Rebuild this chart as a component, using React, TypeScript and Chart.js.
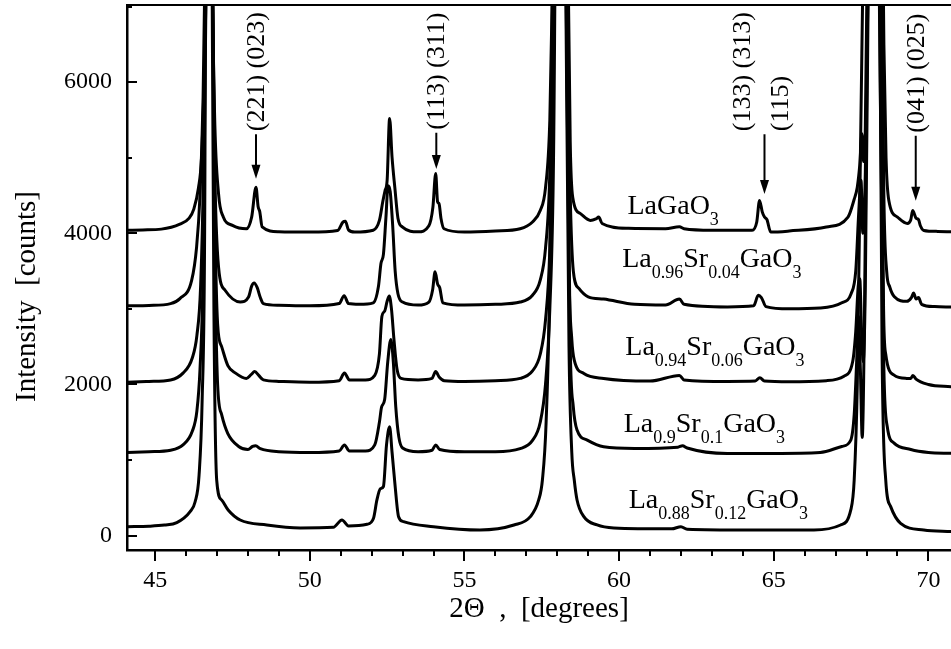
import React, { useEffect, useRef } from 'react';
import { Chart, registerables } from 'chart.js';

Chart.register(...registerables);

// ---- Data: [2Theta (deg), intensity (counts)] ----
const LaGaO3: [number, number][] = [
  [44.1, 4040], [44.6, 4045], [45.2, 4055], [45.8, 4120], [46.1, 4200], [46.25, 4320], [46.4, 4600], [46.5, 5000],
  [46.58, 6000], [46.66, 7800], [46.75, 14000], [46.84, 7800], [46.92, 5600], [47.05, 4520], [47.2, 4220], [47.5, 4105],
  [47.95, 4060], [48.12, 4214], [48.26, 4610], [48.33, 4350], [48.38, 4290], [48.46, 4085], [49.0, 4020], [50.0, 4016],
  [50.9, 4038], [51.07, 4148], [51.15, 4160], [51.25, 4045], [51.45, 4016], [52.05, 4040], [52.25, 4170], [52.36, 4420],
  [52.43, 4560], [52.5, 4700], [52.58, 5520], [52.66, 5000], [52.75, 4600], [52.85, 4200], [53.0, 4082], [53.5, 4020],
  [53.85, 4100], [53.98, 4346], [54.07, 4790], [54.13, 4420], [54.18, 4390], [54.24, 4200], [54.34, 4060], [55.0, 4016],
  [56.0, 4030], [56.8, 4060], [57.2, 4150], [57.45, 4300], [57.62, 4600], [57.76, 5500], [57.88, 8000], [58.1, 16000],
  [58.34, 8000], [58.42, 5200], [58.5, 4478], [58.75, 4260], [59.07, 4170], [59.25, 4190], [59.34, 4214], [59.45, 4130],
  [60.3, 4065], [61.5, 4060], [61.95, 4085], [62.1, 4060], [63.0, 4040], [64.3, 4040], [64.45, 4150], [64.54, 4435],
  [64.63, 4280], [64.7, 4214], [64.78, 4180], [64.9, 4016], [65.5, 4030], [66.7, 4082], [67.4, 4214], [67.6, 4450],
  [67.7, 4610], [67.78, 4900], [67.85, 5318], [67.9, 4950], [67.96, 5400], [68.06, 9000], [68.3, 16000], [68.5, 9000],
  [68.56, 6500], [68.63, 5000], [68.72, 4434], [69.0, 4214], [69.32, 4130], [69.43, 4180], [69.49, 4300], [69.6, 4200],
  [69.68, 4180], [69.74, 4100], [69.85, 4038], [70.3, 4025], [70.75, 4020],
];

const La096Sr004: [number, number][] = [
  [44.1, 3040], [44.8, 3045], [45.5, 3070], [45.8, 3136], [46.18, 3378], [46.34, 3818], [46.45, 4500], [46.55, 5800],
  [46.63, 8000], [46.74, 14000], [46.84, 8000], [46.92, 5000], [47.05, 3553], [47.26, 3246], [47.75, 3091], [48.02, 3157],
  [48.12, 3300], [48.2, 3342], [48.3, 3280], [48.4, 3150], [48.5, 3070], [49.0, 3048], [50.0, 3040], [50.95, 3070],
  [51.11, 3175], [51.25, 3070], [51.6, 3060], [52.05, 3080], [52.22, 3300], [52.3, 3600], [52.38, 3720], [52.46, 4200],
  [52.53, 4630], [52.6, 4550], [52.68, 4100], [52.76, 3500], [52.85, 3200], [53.0, 3090], [53.5, 3050], [53.85, 3090],
  [53.97, 3250], [54.05, 3490], [54.13, 3330], [54.2, 3280], [54.3, 3080], [55.0, 3050], [56.0, 3060], [56.8, 3090],
  [57.2, 3180], [57.45, 3380], [57.62, 3800], [57.76, 4800], [57.86, 7000], [58.1, 15000], [58.32, 7000], [58.42, 4500],
  [58.52, 3500], [58.7, 3270], [59.0, 3160], [59.5, 3130], [60.5, 3060], [61.5, 3050], [61.95, 3130], [62.1, 3060],
  [63.5, 3025], [64.35, 3040], [64.5, 3180], [64.6, 3150], [64.75, 3030], [65.5, 3000], [66.5, 3010], [67.2, 3080],
  [67.5, 3200], [67.65, 3500], [67.75, 4300], [67.82, 4700], [67.88, 4000], [67.96, 4800], [68.07, 8000], [68.28, 15000],
  [68.48, 8000], [68.56, 4500], [68.65, 3500], [68.75, 3290], [68.9, 3160], [69.3, 3100], [69.45, 3150], [69.52, 3210],
  [69.6, 3130], [69.68, 3150], [69.78, 3060], [70.2, 3030], [70.75, 3025],
];

const La094Sr006: [number, number][] = [
  [44.1, 2030], [44.8, 2040], [45.5, 2060], [45.9, 2150], [46.2, 2350], [46.35, 2650], [46.47, 3300], [46.56, 4800],
  [46.64, 8000], [46.74, 14000], [46.84, 8000], [46.93, 4300], [47.02, 2800], [47.15, 2500], [47.35, 2250], [47.6, 2150],
  [47.95, 2080], [48.1, 2130], [48.22, 2170], [48.35, 2120], [48.5, 2060], [49.0, 2040], [50.0, 2030], [50.95, 2050],
  [51.12, 2150], [51.28, 2060], [51.8, 2060], [52.1, 2120], [52.25, 2400], [52.33, 2900], [52.42, 2970], [52.5, 3100],
  [52.57, 3170], [52.64, 3000], [52.72, 2600], [52.82, 2200], [52.95, 2080], [53.5, 2060], [53.95, 2080], [54.07, 2170],
  [54.18, 2100], [54.35, 2050], [55.0, 2040], [56.0, 2050], [56.8, 2080], [57.2, 2180], [57.45, 2400], [57.62, 2850],
  [57.76, 3800], [57.87, 6000], [58.08, 15000], [58.28, 7500], [58.38, 3500], [58.47, 2600], [58.55, 2321], [58.86, 2145],
  [59.5, 2079], [61.0, 2045], [61.95, 2120], [62.1, 2060], [63.5, 2040], [64.4, 2045], [64.55, 2090], [64.7, 2045],
  [65.5, 2035], [66.7, 2050], [67.27, 2110], [67.55, 2300], [67.65, 2700], [67.73, 3300], [67.78, 3400], [67.84, 2700],
  [67.89, 2300], [67.96, 3300], [68.06, 7500], [68.25, 15000], [68.46, 7000], [68.55, 3000], [68.62, 2400], [68.89, 2123],
  [69.3, 2080], [69.43, 2079], [69.5, 2120], [69.6, 2070], [70.0, 2000], [70.75, 1968],
];

const La090Sr010: [number, number][] = [
  [44.1, 1100], [44.8, 1110], [45.5, 1130], [45.9, 1200], [46.2, 1380], [46.35, 1650], [46.45, 2200], [46.55, 3500],
  [46.64, 7000], [46.74, 14000], [46.84, 8000], [46.93, 3800], [47.02, 2000], [47.15, 1600], [47.35, 1350], [47.7, 1180],
  [48.0, 1140], [48.15, 1180], [48.25, 1190], [48.4, 1150], [49.0, 1110], [50.0, 1100], [50.95, 1120], [51.12, 1200],
  [51.28, 1120], [51.8, 1120], [52.1, 1200], [52.25, 1500], [52.32, 1700], [52.42, 1800], [52.52, 2300], [52.62, 2594],
  [52.7, 2300], [52.78, 1700], [52.88, 1300], [53.0, 1160], [53.5, 1110], [53.95, 1130], [54.07, 1200], [54.2, 1140],
  [55.0, 1110], [56.0, 1110], [56.8, 1150], [57.2, 1260], [57.45, 1500], [57.62, 2000], [57.76, 3000], [57.88, 5000],
  [58.08, 15000], [58.3, 7000], [58.42, 2500], [58.52, 1700], [58.64, 1396], [58.97, 1264], [59.5, 1176], [60.5, 1154],
  [61.9, 1170], [62.05, 1190], [62.2, 1160], [63.5, 1088], [65.0, 1088], [66.5, 1100], [67.2, 1180], [67.49, 1264],
  [67.6, 1600], [67.68, 2300], [67.74, 2900], [67.8, 2200], [67.86, 1300], [67.93, 2800], [68.03, 7000], [68.22, 15000],
  [68.44, 6000], [68.56, 2200], [68.67, 1440], [68.89, 1224], [69.43, 1140], [70.0, 1100], [70.75, 1088],
];

const La088Sr012: [number, number][] = [
  [44.1, 119], [44.8, 125], [45.3, 140], [45.7, 172], [46.13, 317], [46.29, 445], [46.42, 800], [46.52, 1800],
  [46.6, 4000], [46.7, 15000], [46.82, 9000], [46.9, 3000], [46.99, 736], [47.15, 472], [47.36, 340], [47.75, 207],
  [48.61, 141], [49.69, 102], [50.76, 110], [51.04, 207], [51.25, 128], [51.85, 150], [52.06, 230], [52.17, 472],
  [52.28, 620], [52.38, 650], [52.48, 1200], [52.58, 1440], [52.66, 1100], [52.76, 648], [52.87, 251], [53.03, 185],
  [54.0, 119], [55.5, 75], [56.6, 141], [57.13, 251], [57.4, 472], [57.52, 736], [57.64, 1500], [57.76, 3500],
  [57.86, 8000], [58.06, 16000], [58.26, 8000], [58.38, 2500], [58.47, 1100], [58.55, 736], [58.64, 472], [58.86, 251],
  [59.29, 141], [59.83, 102], [61.7, 90], [62.0, 119], [62.2, 85], [64.14, 75], [66.3, 75], [67.16, 141],
  [67.49, 340], [67.6, 736], [67.7, 2000], [67.8, 5000], [67.92, 8500], [68.15, 16000], [68.4, 9000], [68.5, 2500],
  [68.62, 736], [68.78, 384], [69.1, 163], [69.85, 75], [70.75, 53],
];

const seriesNames = ['LaGaO3', 'La0.96Sr0.04GaO3', 'La0.94Sr0.06GaO3', 'La0.9Sr0.1GaO3', 'La0.88Sr0.12GaO3'];
const seriesValues = [LaGaO3, La096Sr004, La094Sr006, La090Sr010, La088Sr012];

// curve labels: [text, isSubscript] segments, anchored at data coordinates
const curveLabelParts: [string, boolean][][] = [
  [['LaGaO', false], ['3', true]],
  [['La', false], ['0.96', true], ['Sr', false], ['0.04', true], ['GaO', false], ['3', true]],
  [['La', false], ['0.94', true], ['Sr', false], ['0.06', true], ['GaO', false], ['3', true]],
  [['La', false], ['0.9', true], ['Sr', false], ['0.1', true], ['GaO', false], ['3', true]],
  [['La', false], ['0.88', true], ['Sr', false], ['0.12', true], ['GaO', false], ['3', true]],
];
const curveLabelX = [60.27, 60.1, 60.2, 60.15, 60.31];
const curveLabelY = [4260, 3553, 2387, 1374, 362];

// peak annotations
const peakTags = [['(221) (023)'], ['(113) (311)'], ['(133) (313)', '(115)'], ['(041) (025)']];
const peakTagX = [48.26, 54.09, 64.7, 69.59];
const arrowTipY = [4720, 4850, 4520, 4430];
const arrowTailY = [5310, 5330, 5310, 5290];

// axes
const xMin = 44.09;
const xMax = 70.73;
const yMin = -190;
const yMax = 7020;
const xLabelTicks = [45, 50, 55, 60, 65, 70];
const yLabelTicks = [0, 2000, 4000, 6000];
const xTickMarks = [45, 46, 47, 48, 49, 50, 51, 52, 53, 54, 55, 56, 57, 58, 59, 60, 61, 62, 63, 64, 65, 66, 67, 68, 69, 70];
const yTickMarks = [0, 1000, 2000, 3000, 4000, 5000, 6000, 7000];
const yTitle = 'Intensity  [counts]';
const xTitle = '2\u0398  ,  [degrees]';

const SERIF = "'Liberation Serif', 'Times New Roman', Times, serif";

const overlayPlugin = {
  id: 'overlay',
  afterDraw(chart: any) {
    const { ctx, chartArea: a, scales } = chart;
    const xs = scales.x;
    const ys = scales.y;
    ctx.save();
    ctx.strokeStyle = '#000';
    ctx.fillStyle = '#000';
    ctx.lineCap = 'butt';

    // top frame
    ctx.lineWidth = 2;
    ctx.beginPath();
    ctx.moveTo(a.left, a.top);
    ctx.lineTo(a.right, a.top);
    ctx.stroke();

    // x tick marks (outward)
    ctx.lineWidth = 2;
    xTickMarks.forEach((v) => {
      const px = Math.round(xs.getPixelForValue(v));
      const len = xLabelTicks.includes(v) ? 11 : 6;
      ctx.beginPath();
      ctx.moveTo(px, a.bottom);
      ctx.lineTo(px, a.bottom + len);
      ctx.stroke();
    });
    // y tick marks (inward)
    yTickMarks.forEach((v) => {
      const py = Math.round(ys.getPixelForValue(v));
      if (py < a.top) return;
      const len = yLabelTicks.includes(v) ? 10 : 5;
      ctx.beginPath();
      ctx.moveTo(a.left, py);
      ctx.lineTo(a.left + len, py);
      ctx.stroke();
    });

    // y-axis title (rotated), slightly below the plot centre as in the original
    ctx.save();
    ctx.font = `29px ${SERIF}`;
    ctx.textAlign = 'center';
    ctx.textBaseline = 'middle';
    ctx.translate(27, (a.top + a.bottom) / 2 + 19);
    ctx.rotate(-Math.PI / 2);
    ctx.fillText(yTitle, 0, 0);
    ctx.restore();

    // curve labels with subscripts
    ctx.textBaseline = 'alphabetic';
    ctx.textAlign = 'left';
    curveLabelParts.forEach((parts, i) => {
      let x = xs.getPixelForValue(curveLabelX[i]);
      const y = ys.getPixelForValue(curveLabelY[i]);
      parts.forEach(([t, sub]) => {
        ctx.font = sub ? `18px ${SERIF}` : `28px ${SERIF}`;
        ctx.fillText(t, x, sub ? y + 11 : y);
        x += ctx.measureText(t).width;
      });
    });

    // peak annotations: arrows + rotated text
    peakTags.forEach((lines, i) => {
      const px = xs.getPixelForValue(peakTagX[i]);
      const tip = ys.getPixelForValue(arrowTipY[i]);
      const tail = ys.getPixelForValue(arrowTailY[i]);
      ctx.lineWidth = 2;
      ctx.beginPath();
      ctx.moveTo(px, tail);
      ctx.lineTo(px, tip - 10);
      ctx.stroke();
      ctx.beginPath();
      ctx.moveTo(px - 4.5, tip - 14);
      ctx.lineTo(px + 4.5, tip - 14);
      ctx.lineTo(px, tip);
      ctx.closePath();
      ctx.fill();

      ctx.font = `26px ${SERIF}`;
      ctx.textAlign = 'left';
      ctx.textBaseline = 'middle';
      lines.forEach((t, j) => {
        const off = lines.length > 1 ? (j - (lines.length - 1) / 2) * 38 - 3 : 0;
        ctx.save();
        ctx.translate(px + off, tail - 3);
        ctx.rotate(-Math.PI / 2);
        ctx.fillText(t, 0, 1);
        ctx.restore();
      });
    });
    ctx.restore();
  },
};

export default function App() {
  const ref = useRef<HTMLCanvasElement | null>(null);

  useEffect(() => {
    if (!ref.current) return;
    const chart = new Chart(ref.current, {
      type: 'line',
      data: {
        datasets: seriesValues.map((s, i) => ({
          label: seriesNames[i],
          data: s.map(([x, y]) => ({ x, y })),
          borderColor: '#000',
          backgroundColor: '#000',
          borderWidth: 3,
          pointRadius: 0,
          cubicInterpolationMode: 'monotone' as const,
          fill: false,
          borderJoinStyle: 'round' as const,
        })),
      },
      options: {
        animation: false,
        responsive: false,
        devicePixelRatio: 1,
        layout: { padding: { left: 0, right: 0, top: 5, bottom: 0 } },
        plugins: {
          legend: { display: false },
          tooltip: { enabled: false },
        },
        scales: {
          x: {
            type: 'linear',
            min: xMin,
            max: xMax,
            grid: { display: false, drawTicks: false },
            border: { display: true, color: '#000', width: 2.5 },
            afterBuildTicks: (scale: any) => {
              scale.ticks = xLabelTicks.map((v) => ({ value: v }));
            },
            ticks: {
              autoSkip: false,
              maxRotation: 0,
              color: '#000',
              padding: 16,
              font: { family: SERIF, size: 24 },
              callback: (v: any) => String(v),
            },
            title: {
              display: true,
              text: xTitle,
              color: '#000',
              font: { family: SERIF, size: 29 },
              padding: { top: 0, bottom: 22 },
            },
            afterFit: (scale: any) => {
              scale.height = 99;
              scale.paddingLeft = 0;
              scale.paddingRight = 0;
            },
          },
          y: {
            type: 'linear',
            min: yMin,
            max: yMax,
            grid: { display: false, drawTicks: false },
            border: { display: true, color: '#000', width: 2.5 },
            afterBuildTicks: (scale: any) => {
              scale.ticks = yLabelTicks.map((v) => ({ value: v }));
            },
            ticks: {
              autoSkip: false,
              color: '#000',
              padding: 15,
              font: { family: SERIF, size: 24 },
              callback: (v: any) => String(v),
            },
            title: { display: false, text: yTitle },
            afterFit: (scale: any) => {
              scale.width = 127;
              scale.paddingTop = 0;
              scale.paddingBottom = 0;
            },
          },
        },
      },
      plugins: [overlayPlugin],
    });
    return () => chart.destroy();
  }, []);

  return (
    <div style={{ position: 'fixed', left: 0, top: 0, width: 951, height: 649, background: '#fff' }}>
      <canvas ref={ref} width={951} height={649} style={{ display: 'block', width: 951, height: 649 }} />
    </div>
  );
}
